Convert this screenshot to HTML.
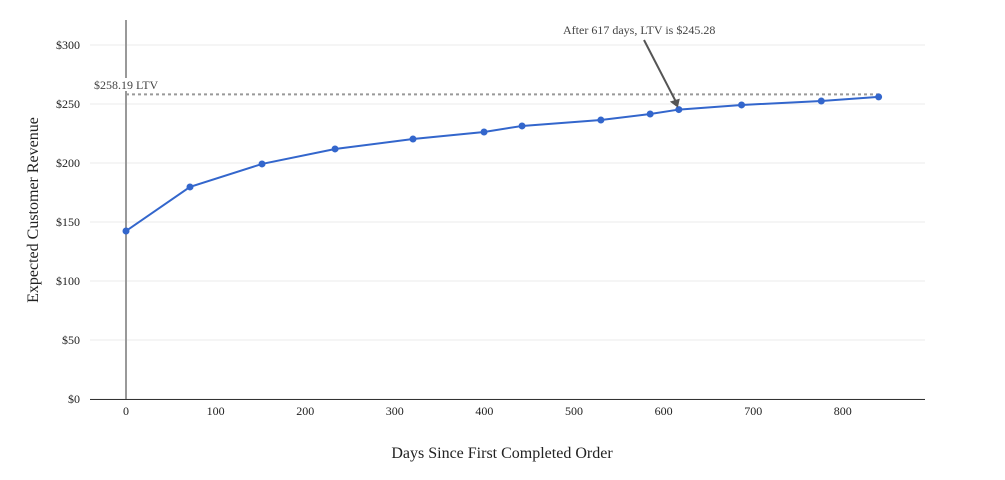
<!DOCTYPE html>
<html><head><meta charset="utf-8"><style>
body{margin:0;background:#fff;}
svg{display:block;font-family:"Liberation Serif",serif;}
</style></head><body>
<svg id="c" width="1005" height="480"></svg>
<script>
const days=[0,71.4,151.8,233.3,320.3,399.6,442,530,585,617,687,776,840];
const ltv=[142.4,179.7,199.2,211.9,220.3,226.3,231.4,236.4,241.5,245.28,249.2,252.5,256];
const xTicks=[0,100,200,300,400,500,600,700,800];
const yTicks=[0,50,100,150,200,250,300];
const ltvLine=258.19;
const annDay=617, annVal=245.28;
const svg=document.getElementById('c');
const NS='http://www.w3.org/2000/svg';
const X=d=>126+d*0.896;
const Y=v=>399-v*1.18;
function mk(t,a,txt){const e=document.createElementNS(NS,t);for(const k in a)e.setAttribute(k,a[k]);if(txt!=null)e.textContent=txt;svg.appendChild(e);return e;}
yTicks.forEach(v=>{
 const g=mk('line',{x1:90,x2:925,y1:Y(v),y2:Y(v),stroke:'#ebebeb','stroke-width':1});
 
 
 const t=mk('text',{x:80,y:Y(v)+4,'text-anchor':'end','font-size':12,fill:'#222'},'$'+v);
 
 
});
const ax=mk('line',{x1:90,x2:925,y1:399.5,y2:399.5,stroke:'#333','stroke-width':1});


xTicks.forEach(v=>{
 const t=mk('text',{x:X(v),y:415,'text-anchor':'middle','font-size':12,fill:'#222'},String(v));
 
 
});
const vl=mk('line',{x1:X(0),x2:X(0),y1:20,y2:399,stroke:'#999','stroke-width':2});


const hl=mk('line',{x1:X(0),x2:X(840),y1:Y(ltvLine),y2:Y(ltvLine),stroke:'#999','stroke-width':2,'stroke-dasharray':'3,3'});


const bg=mk('rect',{x:93,y:78,width:64,height:13,fill:'#fff'});


const lt=mk('text',{x:94,y:89,'font-size':12,fill:'#444'},'$'+ltvLine+' LTV');


const path=mk('polyline',{points:days.map((d,i)=>X(d)+','+Y(ltv[i])).join(' '),fill:'none',stroke:'#3366cc','stroke-width':2});


days.forEach((d,i)=>{
 const c=mk('circle',{cx:X(d),cy:Y(ltv[i]),r:3.5,fill:'#3366cc'});
 
 
});
const ar=mk('line',{x1:644,y1:40,x2:X(annDay)-3,y2:Y(annVal)-8,stroke:'#555','stroke-width':2});


const ah=mk('polygon',{points:`${X(annDay)-1},${Y(annVal)-2} ${X(annDay)-9},${Y(annVal)-8} ${X(annDay)+1},${Y(annVal)-11}`,fill:'#555'});


const at=mk('text',{x:563,y:34,'font-size':12,fill:'#444'},'After '+annDay+' days, LTV is $'+annVal);


const xt=mk('text',{x:502,y:458,'text-anchor':'middle','font-size':16,fill:'#222'},'Days Since First Completed Order');


const yt=mk('text',{x:0,y:0,'text-anchor':'middle','font-size':16,fill:'#222',transform:'translate(38,210) rotate(-90)'},'Expected Customer Revenue');


</script>
</body></html>
